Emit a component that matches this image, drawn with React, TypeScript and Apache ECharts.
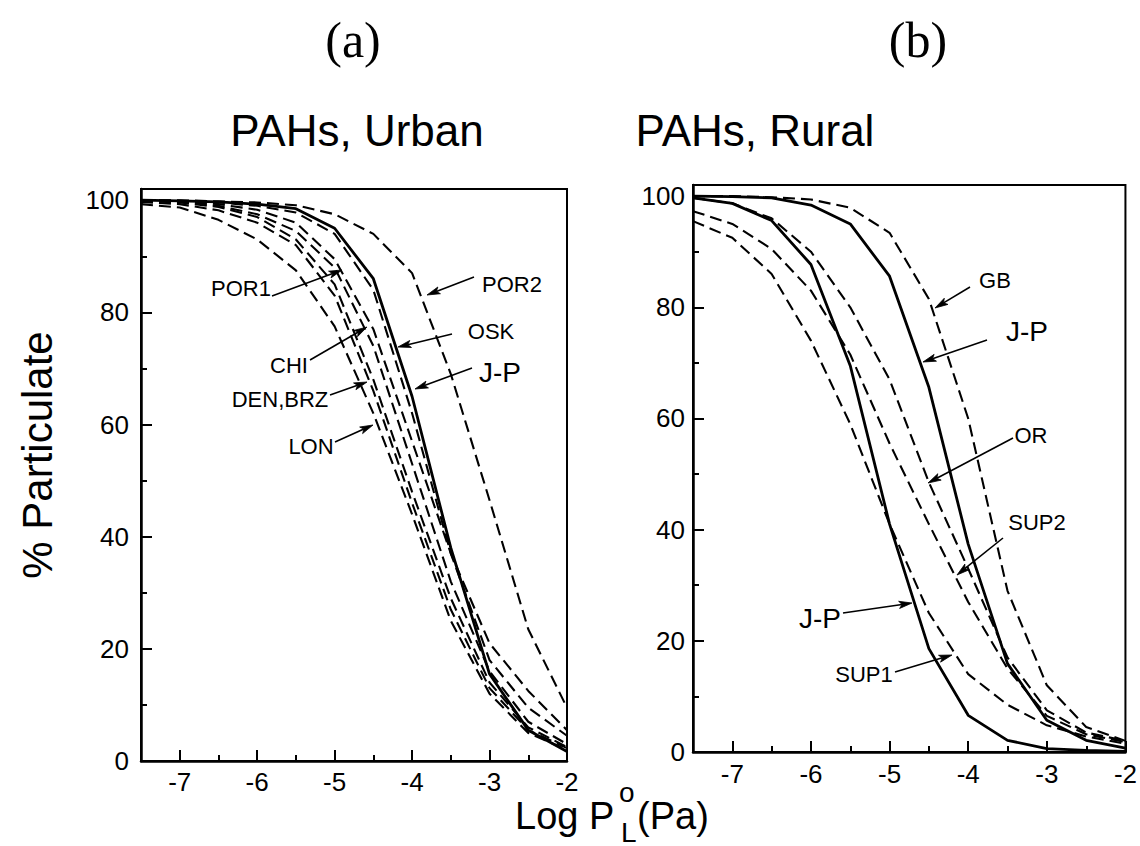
import React, { useEffect, useRef } from "react";
import * as echarts from "echarts";

// ---------- data ----------
const xValues = [-7.5, -7, -6.5, -6, -5.5, -5, -4.5, -4, -3.5, -3, -2.5, -2];
const xMajorTicks = [-7, -6, -5, -4, -3, -2];
const xMinorTicks = [-7.5, -6.5, -5.5, -4.5, -3.5, -2.5];
const yMajorTicks = [0, 20, 40, 60, 80, 100];
const yMinorTicks = [10, 30, 50, 70, 90];

// (a) PAHs, Urban
const urbanJP = [100, 99.9, 99.7, 99.3, 98.5, 95, 86, 65, 38, 15.5, 5.5, 1.7];
const urbanPOR2 = [100, 100, 99.8, 99.6, 99.1, 97.5, 94, 87, 69, 46.5, 23.5, 9.5];
const urbanOSK = [100, 99.9, 99.6, 99, 97.8, 94, 84, 62, 37, 18, 9.5, 4.5];
const urbanPOR1 = [100, 99.8, 99.3, 98.3, 96, 89.5, 77, 57, 37, 21, 12.5, 5.5];
const urbanCHI = [99.9, 99.7, 99, 97.5, 94.5, 88, 74, 53, 32, 16, 7, 3];
const urbanDEN = [99.7, 99.3, 98.2, 96, 92, 83, 66, 46, 27, 13, 5.5, 2.3];
const urbanBRZ = [99.9, 99.6, 98.8, 97, 93, 85, 68, 48, 29, 14, 6, 2.5];
const urbanLON = [99.3, 98.7, 96.5, 93, 87.5, 77.5, 62, 44, 25, 12, 5, 2];

// (b) PAHs, Rural
const ruralJP1 = [99.7, 98.7, 95.6, 87.7, 69.5, 41, 18.6, 6.6, 2.1, 0.6, 0.3, 0.1];
const ruralJP2 = [100, 99.9, 99.7, 98.4, 95, 85.6, 65.6, 37.4, 15.9, 5.7, 2.1, 0.7];
const ruralGB = [100, 100, 99.8, 99.4, 97.9, 93.4, 81.5, 60, 29, 12, 4.5, 2];
const ruralOR = [99.7, 98.7, 96, 90, 80, 67, 48.5, 33, 17, 7.5, 3.5, 2];
const ruralSUP2 = [97.3, 95, 90.5, 83, 71.5, 55.5, 41, 27, 15, 6.5, 3.2, 1.8];
const ruralSUP1 = [95.5, 92.5, 86, 74, 59, 41, 25, 14, 8.5, 4.8, 2.8, 1.5];

const urbanSeries: [string, number[], boolean][] = [
  ["J-P", urbanJP, true],
  ["POR2", urbanPOR2, false],
  ["OSK", urbanOSK, false],
  ["POR1", urbanPOR1, false],
  ["CHI", urbanCHI, false],
  ["DEN", urbanDEN, false],
  ["BRZ", urbanBRZ, false],
  ["LON", urbanLON, false],
];
const ruralSeries: [string, number[], boolean][] = [
  ["J-P 1", ruralJP1, true],
  ["J-P 2", ruralJP2, true],
  ["GB", ruralGB, false],
  ["OR", ruralOR, false],
  ["SUP2", ruralSUP2, false],
  ["SUP1", ruralSUP1, false],
];

const FONT = "Liberation Sans, Arial, Helvetica, sans-serif";

function arrow(x1: number, y1: number, x2: number, y2: number) {
  const dx = x2 - x1;
  const dy = y2 - y1;
  const L = Math.hypot(dx, dy);
  const ux = dx / L;
  const uy = dy / L;
  const hl = 13;
  const hw = 3.6;
  const bx = x2 - ux * hl;
  const by = y2 - uy * hl;
  const nx = x2 - ux * (hl - 3);
  const ny = y2 - uy * (hl - 3);
  return [
    {
      type: "line",
      shape: { x1, y1, x2: nx, y2: ny },
      style: { stroke: "#000", lineWidth: 1.6 },
      z: 100,
    },
    {
      type: "polygon",
      shape: {
        points: [
          [x2, y2],
          [bx - uy * hw, by + ux * hw],
          [nx, ny],
          [bx + uy * hw, by - ux * hw],
        ],
      },
      style: { fill: "#000", stroke: "#000", lineWidth: 0.8 },
      z: 100,
    },
  ];
}

function label(text: string, x: number, y: number, size: number) {
  return {
    type: "text",
    x,
    y,
    z: 100,
    style: {
      text,
      fill: "#000",
      font: `${size}px ${FONT}`,
      align: "center",
      verticalAlign: "middle",
    },
  };
}

// annotation layout: [text, textX, textY, fontSize, arrowStartX, arrowStartY, tipX, tipY]
const annotations: [string, number, number, number, number, number, number, number][] = [
  ["POR1", 241, 288, 22, 272, 296, 342, 270],
  ["POR2", 512, 284, 22, 474, 277, 427, 295],
  ["OSK", 491, 331, 22, 452, 334, 398, 347],
  ["J-P", 500, 372, 28, 472, 368, 415, 389],
  ["CHI", 289, 365, 22, 310, 360, 367, 327],
  ["DEN,BRZ", 280, 399, 22, 330, 395, 367, 382],
  ["LON", 311, 446, 22, 335, 442, 373, 425],
  ["GB", 995, 280, 22, 970, 287, 935, 308],
  ["J-P", 1027, 331, 28, 987, 340, 923, 362],
  ["OR", 1031, 435, 22, 1013, 438, 928, 483],
  ["SUP2", 1037, 522, 22, 1003, 538, 957, 575],
  ["J-P", 820, 618, 28, 843, 613, 912, 603],
  ["SUP1", 864, 674, 22, 895, 672, 952, 655],
];

function buildOption() {
  const grids = [
    { left: 141, top: 189, width: 426, height: 572 },
    { left: 693, top: 185, width: 433, height: 567 },
  ];
  const grid: any[] = [];
  grids.forEach((g) => {
    grid.push({ ...g, show: true, borderColor: "#000", borderWidth: 2, backgroundColor: "transparent" });
    grid.push({ ...g, show: false });
  });

  const xAxis: any[] = [];
  const yAxis: any[] = [];
  const xLabelMargin = [9, 10];
  const yLabelMargin = [12, 8];
  for (let p = 0; p < 2; p++) {
    xAxis.push({
      type: "value",
      gridIndex: 2 * p,
      min: -7.5,
      max: -2,
      axisLine: { show: true, onZero: false, lineStyle: { color: "#000", width: 2.5 } },
      axisTick: { show: true, inside: true, length: 11, customValues: xMajorTicks, lineStyle: { color: "#000", width: 2 } },
      axisLabel: {
        show: true,
        customValues: xMajorTicks,
        margin: xLabelMargin[p],
        color: "#000",
        fontSize: 26,
        lineHeight: 24,
        fontFamily: FONT,
        formatter: (v: number) => String(v),
      },
      splitLine: { show: false },
    });
    xAxis.push({
      type: "value",
      gridIndex: 2 * p + 1,
      min: -7.5,
      max: -2,
      position: "bottom",
      axisLine: { show: false, onZero: false },
      axisTick: { show: true, inside: true, length: 6, customValues: xMinorTicks, lineStyle: { color: "#000", width: 2 } },
      axisLabel: { show: false },
      splitLine: { show: false },
    });
    yAxis.push({
      type: "value",
      gridIndex: 2 * p,
      min: 0,
      max: 102,
      axisLine: { show: true, onZero: false, lineStyle: { color: "#000", width: 2.5 } },
      axisTick: { show: true, inside: true, length: 11, customValues: yMajorTicks, lineStyle: { color: "#000", width: 2 } },
      axisLabel: {
        show: true,
        customValues: yMajorTicks,
        margin: yLabelMargin[p],
        color: "#000",
        fontSize: 26,
        fontFamily: FONT,
      },
      splitLine: { show: false },
    });
    yAxis.push({
      type: "value",
      gridIndex: 2 * p + 1,
      min: 0,
      max: 102,
      position: "left",
      axisLine: { show: false, onZero: false },
      axisTick: { show: true, inside: true, length: 6, customValues: yMinorTicks, lineStyle: { color: "#000", width: 2 } },
      axisLabel: { show: false },
      splitLine: { show: false },
    });
  }

  const mk = (list: [string, number[], boolean][], axisIndex: number) =>
    list.map(([name, vals, solid]) => ({
      name,
      type: "line",
      xAxisIndex: axisIndex,
      yAxisIndex: axisIndex,
      data: xValues.map((x, i) => [x, vals[i]]),
      symbol: "none",
      silent: true,
      lineStyle: solid
        ? { color: "#000", width: 2.8, type: "solid" }
        : { color: "#000", width: 2.1, type: [12, 6] },
      z: solid ? 3 : 2,
    }));

  const series = [...mk(urbanSeries, 0), ...mk(ruralSeries, 2)];

  const graphic: any[] = [
    {
      type: "text",
      x: 353,
      y: 40,
      style: { text: "(a)", fill: "#000", font: "50px Liberation Serif, Times New Roman, serif", align: "center", verticalAlign: "middle" },
    },
    {
      type: "text",
      x: 918,
      y: 40,
      style: { text: "(b)", fill: "#000", font: "50px Liberation Serif, Times New Roman, serif", align: "center", verticalAlign: "middle" },
    },
    label("PAHs, Urban", 357, 130, 44),
    label("PAHs, Rural", 755, 130, 44),
    {
      type: "text",
      x: 37,
      y: 455,
      rotation: Math.PI / 2,
      style: { text: "% Particulate", fill: "#000", font: `42px ${FONT}`, align: "center", verticalAlign: "middle" },
    },
    {
      type: "text",
      x: 515,
      y: 816,
      style: { text: "Log P", fill: "#000", font: `38px ${FONT}`, lineHeight: 36, align: "left", verticalAlign: "middle" },
    },
    {
      type: "text",
      x: 619,
      y: 792,
      style: { text: "o", fill: "#000", font: `28px ${FONT}`, align: "left", verticalAlign: "middle" },
    },
    {
      type: "text",
      x: 621,
      y: 832,
      style: { text: "L", fill: "#000", font: `28px ${FONT}`, align: "left", verticalAlign: "middle" },
    },
    {
      type: "text",
      x: 637,
      y: 816,
      style: { text: "(Pa)", fill: "#000", font: `38px ${FONT}`, lineHeight: 36, align: "left", verticalAlign: "middle" },
    },
  ];
  annotations.forEach(([t, tx, ty, fs, ax, ay, bx, by]) => {
    graphic.push(label(t, tx, ty, fs));
    graphic.push(...arrow(ax, ay, bx, by));
  });

  return {
    animation: false,
    backgroundColor: "#fff",
    grid,
    xAxis,
    yAxis,
    series,
    graphic,
  };
}

export default function App() {
  const ref = useRef<HTMLDivElement>(null);
  useEffect(() => {
    if (!ref.current) return;
    const chart = echarts.init(ref.current, undefined, { renderer: "svg" });
    chart.setOption(buildOption() as any);
    return () => chart.dispose();
  }, []);
  return (
    <div
      ref={ref}
      style={{ position: "fixed", left: 0, top: 0, width: 1140, height: 846, background: "#fff" }}
    />
  );
}
